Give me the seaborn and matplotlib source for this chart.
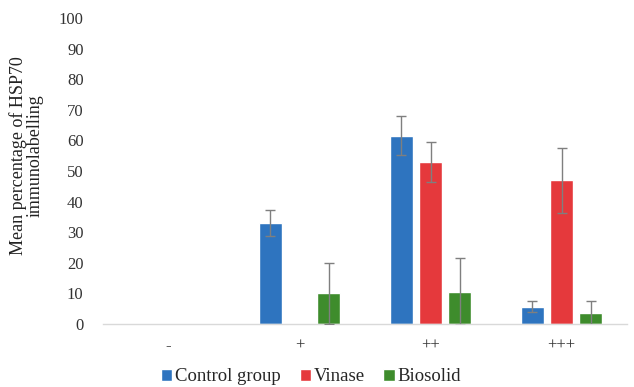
import numpy as np
import pandas as pd
import matplotlib
matplotlib.use("Agg")
import matplotlib.pyplot as plt
import seaborn as sns

categories = ["-", "+", "++", "+++"]
groups = ["Control group", "Vinase", "Biosolid"]
control_vals = [np.nan, 33.0, 61.5, 5.7]
vinase_vals = [np.nan, np.nan, 53.0, 47.0]
biosolid_vals = [np.nan, 10.0, 10.6, 3.5]
control_err = [np.nan, 4.4, 6.4, 1.7]
vinase_err = [np.nan, np.nan, 6.6, 10.6]
biosolid_err = [np.nan, 10.0, 11.0, 4.0]
colors = ["#2E74BF", "#E5393C", "#3E8C2C"]

rows = []
for g, vals, errs in zip(groups, [control_vals, vinase_vals, biosolid_vals],
                         [control_err, vinase_err, biosolid_err]):
    for c, v, e in zip(categories, vals, errs):
        rows.append({"cat": c, "group": g, "value": v, "err": e})
df = pd.DataFrame(rows)

sns.set_style("white")
plt.rcParams["font.family"] = ["Liberation Serif", "DejaVu Serif"]

fig = plt.figure(figsize=(6.34, 3.87), dpi=100)
ax = fig.add_axes([103/634, 63/387, 524/634, 306/387])

sns.barplot(data=df, x="cat", y="value", hue="group", order=categories,
            hue_order=groups, palette=colors, errorbar=None, width=0.675,
            gap=0.22, saturation=1, ax=ax)

# error bars at the centre of each drawn bar (matched by category position)
for gi, g in enumerate(groups):
    cont = ax.containers[gi]
    sub = df[df.group == g].set_index("cat")
    for patch in cont.patches:
        xc = patch.get_x() + patch.get_width() / 2
        cat = categories[int(round(xc))]
        r = sub.loc[cat]
        if np.isnan(r["value"]):
            continue
        ax.errorbar(xc, r["value"], yerr=r["err"], fmt="none",
                    ecolor="#7f7f7f", elinewidth=1.0, capsize=3.5,
                    capthick=1.0, zorder=5)

ax.set_ylim(0, 100)
ax.set_xlim(-0.5, 3.5)
ax.set_yticks(range(0, 101, 10))
ax.set_xlabel("")
ax.set_ylabel("Mean percentage of HSP70\nimmunolabelling", fontsize=13,
              color="#222222", linespacing=0.95)
ax.yaxis.set_label_coords(-0.113, 0.549)
for s in ["top", "right", "left"]:
    ax.spines[s].set_visible(False)
ax.spines["bottom"].set_color("#d9d9d9")
ax.spines["bottom"].set_linewidth(1.0)
ax.tick_params(axis="both", length=0, labelsize=12, labelcolor="#333333")
ax.tick_params(axis="x", pad=10)
ax.tick_params(axis="y", pad=14)

handles, labels = ax.get_legend_handles_labels()
ax.legend(handles, labels, loc="center", bbox_to_anchor=(0.397, -0.173),
          ncol=3, frameon=False, fontsize=13.5, handlelength=0.6,
          handleheight=0.6, handletextpad=0.15, columnspacing=1.0,
          borderpad=0.1)

fig.savefig("out.png", dpi=100)
